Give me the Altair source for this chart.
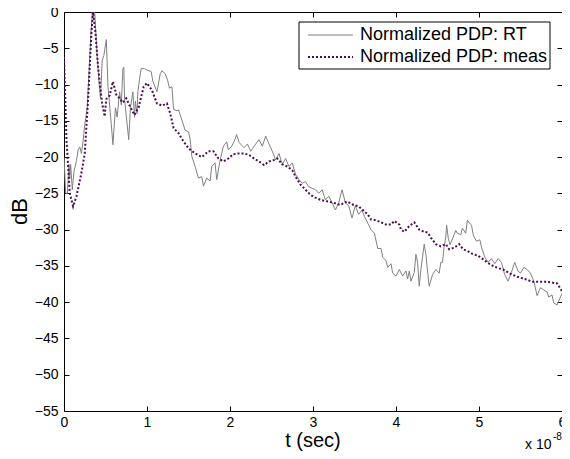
import altair as alt
import pandas as pd

# ---------------- data (t in units of 1e-8 s, level in dB) ----------------
rt_t = [0.00, 0.02, 0.04, 0.06, 0.07, 0.08, 0.10, 0.12, 0.15, 0.17, 0.19, 0.21, 0.23, 0.25,
        0.28, 0.30, 0.32, 0.34, 0.37, 0.40, 0.42, 0.44, 0.46, 0.48, 0.51, 0.53, 0.57, 0.59,
        0.60, 0.62, 0.64, 0.67, 0.69, 0.71, 0.72, 0.73, 0.75, 0.78, 0.80, 0.83, 0.85, 0.86,
        0.88, 0.89, 0.91, 0.93, 0.97, 1.00, 1.05, 1.07, 1.12, 1.16, 1.18, 1.22, 1.25, 1.27,
        1.30, 1.32, 1.36, 1.38, 1.42, 1.46, 1.50, 1.52, 1.54, 1.58, 1.62, 1.66, 1.68, 1.72,
        1.76, 1.78, 1.82, 1.84, 1.88, 1.92, 1.96, 1.98, 2.02, 2.06, 2.08, 2.11, 2.17, 2.21,
        2.25, 2.29, 2.35, 2.39, 2.43, 2.47, 2.51, 2.55, 2.59, 2.63, 2.67, 2.71, 2.75, 2.79,
        2.83, 2.87, 2.91, 2.95, 2.99, 3.03, 3.07, 3.11, 3.15, 3.19, 3.23, 3.27, 3.31, 3.35,
        3.39, 3.43, 3.47, 3.51, 3.55, 3.59, 3.62, 3.66, 3.70, 3.74, 3.78, 3.82, 3.84, 3.88,
        3.90, 3.94, 3.96, 4.00, 4.04, 4.08, 4.12, 4.14, 4.16, 4.18, 4.22, 4.24, 4.26, 4.28,
        4.30, 4.34, 4.36, 4.38, 4.40, 4.44, 4.48, 4.52, 4.54, 4.56, 4.58, 4.60, 4.61, 4.63,
        4.65, 4.70, 4.72, 4.74, 4.78, 4.80, 4.84, 4.86, 4.88, 4.91, 4.93, 4.95, 4.97, 5.01,
        5.03, 5.07, 5.11, 5.15, 5.19, 5.23, 5.27, 5.31, 5.35, 5.39, 5.43, 5.47, 5.50, 5.54,
        5.58, 5.62, 5.66, 5.70, 5.74, 5.78, 5.82, 5.84, 5.88, 5.90, 5.94, 5.98, 6.00]
rt_db = [-20.0, -25.0, -25.0, -21.0, -23.0, -21.0, -24.5, -22.0, -20.5, -19.0, -18.6, -19.5, -17.8, -15.5,
         -13.2, -8.6, -3.9, 0.0, 0.0, -6.2, -9.4, -12.0, -6.7, -6.0, -3.8, -10.3, -15.5, -18.3,
         -16.5, -13.2, -14.5, -11.0, -12.8, -7.8, -7.6, -12.0, -14.3, -17.6, -13.2, -11.0, -14.5, -12.3,
         -14.0, -11.0, -9.2, -7.8, -7.8, -8.0, -8.2, -9.5, -11.0, -8.5, -8.1, -8.5, -9.5, -10.5,
         -10.3, -13.4, -13.6, -13.5, -14.9, -16.3, -16.5, -17.6, -19.9, -21.3, -22.9, -22.7, -24.0, -22.9,
         -23.3, -21.3, -20.8, -23.1, -20.5, -18.5, -17.9, -19.0, -18.5, -17.6, -16.9, -18.0, -18.7, -18.2,
         -19.2, -18.5, -17.6, -18.5, -17.1, -18.2, -19.2, -20.4, -19.5, -21.0, -20.2, -21.3, -20.8, -22.4,
         -23.1, -23.6, -23.4, -24.1, -24.3, -24.5, -25.0, -24.5, -25.9, -25.4, -26.3, -27.3, -26.3, -24.5,
         -26.3, -26.7, -28.4, -26.7, -27.9, -27.3, -28.2, -29.1, -30.0, -30.5, -32.6, -32.6, -33.8, -34.3,
         -35.2, -34.7, -36.0, -36.4, -35.5, -36.4, -35.7, -36.8, -35.7, -37.1, -35.9, -33.4, -34.5, -37.8,
         -35.5, -32.0, -33.4, -35.7, -37.8, -36.2, -35.5, -36.0, -34.5, -34.5, -32.4, -31.0, -29.4, -31.2,
         -32.1, -30.7, -30.1, -30.5, -30.7, -29.8, -30.5, -28.7, -29.0, -29.4, -30.7, -31.2, -31.6, -31.4,
         -32.4, -33.8, -34.5, -34.0, -34.7, -34.0, -34.5, -36.2, -37.1, -35.9, -34.5, -35.7, -36.0, -35.2,
         -35.5, -36.0, -37.1, -39.1, -38.0, -38.3, -38.6, -39.3, -39.0, -40.1, -40.4, -39.3, -38.8]

meas_t = [0.00, 0.03, 0.07, 0.11, 0.15, 0.21, 0.25, 0.29, 0.33, 0.35, 0.38, 0.41, 0.44, 0.46,
          0.49, 0.51, 0.55, 0.59, 0.63, 0.67, 0.71, 0.75, 0.79, 0.85, 0.90, 0.96, 1.00, 1.06,
          1.12, 1.18, 1.24, 1.28, 1.32, 1.38, 1.42, 1.50, 1.58, 1.66, 1.74, 1.80, 1.86, 1.92,
          1.98, 2.04, 2.10, 2.17, 2.23, 2.29, 2.35, 2.41, 2.47, 2.53, 2.57, 2.63, 2.69, 2.75,
          2.79, 2.85, 2.91, 2.97, 3.03, 3.09, 3.17, 3.25, 3.33, 3.41, 3.49, 3.55, 3.60, 3.66,
          3.70, 3.76, 3.82, 3.88, 3.94, 3.98, 4.04, 4.06, 4.10, 4.16, 4.22, 4.28, 4.34, 4.38,
          4.42, 4.48, 4.54, 4.60, 4.64, 4.70, 4.76, 4.81, 4.87, 4.93, 4.99, 5.05, 5.11, 5.17,
          5.23, 5.29, 5.35, 5.40, 5.46, 5.52, 5.58, 5.64, 5.70, 5.76, 5.82, 5.88, 5.94, 5.98, 6.00]
meas_db = [-6.2, -17.6, -25.0, -26.8, -25.4, -22.2, -19.5, -12.1, -3.0, 0.0, -3.0, -7.5, -10.7, -12.6,
           -14.4, -12.0, -11.5, -9.6, -11.4, -11.9, -12.5, -11.9, -12.9, -14.2, -13.1, -10.3, -9.8, -10.8,
           -12.6, -12.9, -12.6, -14.0, -16.0, -16.7, -17.5, -18.8, -19.5, -20.0, -19.2, -19.2, -20.2, -20.6,
           -20.2, -19.6, -19.5, -19.5, -19.7, -20.2, -20.6, -21.1, -20.6, -20.4, -20.2, -21.0, -21.3, -21.8,
           -22.7, -23.8, -24.5, -25.2, -25.6, -25.9, -26.1, -26.3, -26.6, -26.1, -26.6, -26.8, -27.3, -27.9,
           -28.6, -28.7, -29.0, -29.3, -29.3, -28.8, -29.3, -30.0, -30.3, -29.5, -29.0, -30.0, -30.3, -30.4,
           -31.1, -32.0, -32.3, -32.0, -32.7, -32.5, -32.0, -32.7, -33.0, -33.4, -33.6, -34.1, -34.6, -35.0,
           -35.3, -35.5, -35.9, -36.2, -36.5, -36.7, -36.9, -37.2, -37.2, -37.2, -37.2, -37.3, -37.4, -38.1, -38.5]

x_ticks = [0, 1, 2, 3, 4, 5, 6]
y_ticks = [-55, -50, -45, -40, -35, -30, -25, -20, -15, -10, -5, 0]
legend_labels = ["Normalized PDP: RT", "Normalized PDP: meas"]
x_title = "t (sec)"
y_title = "dB"
exp_base = "x 10"
exp_power = "-8"

# ---------------- styling ----------------
FONT = "Liberation Sans"
GRAY = "#808080"
PURPLE = "#4b0e50"
W, H = 498, 399

rt = pd.DataFrame({"t": rt_t, "dB": rt_db})
meas = pd.DataFrame({"t": meas_t, "dB": meas_db})
one = pd.DataFrame({"k": [0]})

xs = alt.Scale(domain=[0, 6], nice=False, zero=False)
ys = alt.Scale(domain=[-55, 0], nice=False, zero=False)

x_lab = alt.Axis(orient="bottom", values=x_ticks, ticks=False, tickSize=0, domain=False, grid=False,
                 labelFont=FONT, labelFontSize=14, labelColor="black", labelPadding=4,
                 labelFlush=False, labelOverlap=False, title=None)
y_lab = alt.Axis(orient="left", values=y_ticks, ticks=False, tickSize=0, domain=False, grid=False,
                 labelFont=FONT, labelFontSize=14, labelColor="black", labelPadding=6,
                 labelOverlap=False, title=None)


def tick_axis(orient, vals):
    return alt.Axis(orient=orient, values=vals, labels=False, domain=False, grid=False,
                    ticks=True, tickSize=5, tickColor="black", tickWidth=1, offset=-5, title=None)


rt_line = alt.Chart(rt).mark_line(color=GRAY, strokeWidth=1, clip=True).encode(
    x=alt.X("t:Q", scale=xs, axis=x_lab),
    y=alt.Y("dB:Q", scale=ys, axis=y_lab),
)
meas_line = alt.Chart(meas).mark_line(color=PURPLE, strokeWidth=2, strokeDash=[2, 2], clip=True).encode(
    x=alt.X("t:Q", scale=xs, axis=tick_axis("bottom", x_ticks)),
    y=alt.Y("dB:Q", scale=ys, axis=tick_axis("left", y_ticks)),
)
ghost = alt.Chart(meas).mark_line(opacity=0).encode(
    x=alt.X("t:Q", scale=xs, axis=tick_axis("top", x_ticks)),
    y=alt.Y("dB:Q", scale=ys, axis=tick_axis("right", y_ticks)),
)

# axis titles
x_title_mark = alt.Chart(one).mark_text(align="center", baseline="alphabetic", font=FONT, fontSize=20,
                                        color="black").encode(
    x=alt.value(W / 2), y=alt.value(435), text=alt.value(x_title))
y_title_mark = alt.Chart(one).mark_text(align="center", baseline="alphabetic", font=FONT, fontSize=22,
                                        angle=270, color="black").encode(
    x=alt.value(-37), y=alt.value(H / 2), text=alt.value(y_title))

# legend box
leg_box = alt.Chart(one).mark_rect(fill="white", stroke="black", strokeWidth=1).encode(
    x=alt.value(235), x2=alt.value(486), y=alt.value(10), y2=alt.value(57))
leg_rt = alt.Chart(one).mark_rule(color=GRAY, strokeWidth=1).encode(
    x=alt.value(244), x2=alt.value(289), y=alt.value(23))
leg_meas = alt.Chart(one).mark_rule(color=PURPLE, strokeWidth=2, strokeDash=[2, 2]).encode(
    x=alt.value(244), x2=alt.value(289), y=alt.value(45))
leg_t1 = alt.Chart(one).mark_text(align="left", baseline="middle", font=FONT, fontSize=18,
                                  color="black").encode(
    x=alt.value(296), y=alt.value(23), text=alt.value(legend_labels[0]))
leg_t2 = alt.Chart(one).mark_text(align="left", baseline="middle", font=FONT, fontSize=18,
                                  color="black").encode(
    x=alt.value(296), y=alt.value(45), text=alt.value(legend_labels[1]))

# exponent annotation
exp1 = alt.Chart(one).mark_text(align="left", baseline="alphabetic", font=FONT, fontSize=14,
                                color="black").encode(
    x=alt.value(461), y=alt.value(437), text=alt.value(exp_base))
exp2 = alt.Chart(one).mark_text(align="left", baseline="alphabetic", font=FONT, fontSize=10,
                                color="black").encode(
    x=alt.value(489), y=alt.value(428), text=alt.value(exp_power))

chart = alt.layer(
    rt_line, meas_line, ghost, x_title_mark, y_title_mark,
    leg_box, leg_rt, leg_meas, leg_t1, leg_t2, exp1, exp2
).resolve_axis(
    x="independent", y="independent"
).properties(
    width=W, height=H,
    padding={"left": 56, "top": 4, "right": 0, "bottom": 40},
    autosize=alt.AutoSizeParams(type="none"),
    background="white",
).configure_view(
    stroke="black", strokeWidth=1
)

chart.save("out.html", embed_options={"renderer": "svg", "actions": False})
